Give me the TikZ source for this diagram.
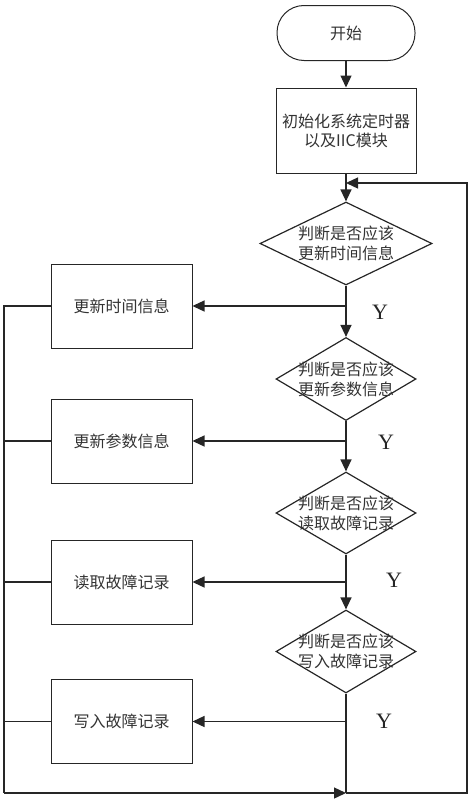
\documentclass[tikz,border=0pt]{standalone}
\usepackage{fontspec}
\setmainfont{Noto Sans CJK SC}
\newfontfamily\yfont{Liberation Serif}
\usetikzlibrary{shapes.geometric,arrows.meta}

\begin{document}
\begin{tikzpicture}[x=1pt,y=-1pt,
  every node/.style={text=black!80},
  terminal/.style={draw=black!85,line width=1pt,rounded corners=27pt,minimum width=138pt,minimum height=55pt,inner sep=0pt,font=\fontsize{16}{19}\selectfont},
  box/.style={draw=black!85,line width=1pt,minimum width=141pt,minimum height=84pt,inner sep=0pt,align=center,font=\fontsize{16}{19}\selectfont},
  decision/.style={draw=black!85,shape=diamond,line width=1.2pt,inner sep=0pt,minimum width=140pt,minimum height=83pt},
  dtext/.style={align=center,inner sep=0pt,font=\fontsize{16}{20}\selectfont,text=black!80},
  flow/.style={draw=black!85,line width=1.3pt,-{Triangle[length=12pt,width=11pt]}},
  link/.style={draw=black!85,line width=1.3pt},
  yes/.style={font=\yfont\fontsize{22}{22}\selectfont,text=black!85}]

\useasboundingbox (0,0) rectangle (474,803);

% Main column
\node[terminal] (start) at (346,33) {开始};
\node[box,minimum width=140pt,minimum height=85pt] (init) at (346,130.5) {初始化系统定时器\\以及IIC模块};
\node[decision,minimum width=172pt] (d1) at (346,243.5) {};
\node[dtext] (t1) at (d1) {判断是否应该\\更新时间信息};
\node[decision] (d2) at (346,379) {};
\node[dtext] (t2) at (d2) {判断是否应该\\更新参数信息};
\node[decision,minimum height=82pt] (d3) at (346,513) {};
\node[dtext] (t3) at (d3) {判断是否应该\\读取故障记录};
\node[decision] (d4) at (346,651.5) {};
\node[dtext] (t4) at (d4) {判断是否应该\\写入故障记录};

% Left column
\node[box] (b1) at (121.5,306) {更新时间信息};
\node[box] (b2) at (121.5,441) {更新参数信息};
\node[box] (b3) at (121.5,582) {读取故障记录};
\node[box] (b4) at (121.5,721.5) {写入故障记录};

% Y labels
\node[yes] (y1) at (380,312) {Y};
\node[yes] (y2) at (386,442) {Y};
\node[yes] (y3) at (394,580) {Y};
\node[yes] (y4) at (384,721) {Y};

% Loop corners
\coordinate (top) at (346,183);
\coordinate (bot) at (346,793);
\coordinate (rb) at (467,793);
\coordinate (rt) at (467,183);
\coordinate (lb) at (4,793);

% Downward flow
\draw[flow] (start) -- (init);
\draw[flow] (init) -- (d1);
\draw[flow] (d1) -- (d2);
\draw[flow] (d2) -- (d3);
\draw[flow] (d3) -- (d4);
\draw[link] (d4) -- (bot);

% Branches to the left boxes
\draw[flow] (d1.south |- b1.east) -- (b1);
\draw[flow] (d2.south |- b2.east) -- (b2);
\draw[flow] (d3.south |- b3.east) -- (b3);
\draw[flow] (d4.south |- b4.east) -- (b4);

% Return along the left side
\draw[link] (b1) -- (lb |- b1.west) -- (lb);
\draw[link] (b2) -- (lb |- b2.west);
\draw[link] (b3) -- (lb |- b3.west);
\draw[link] (b4) -- (lb |- b4.west);
\draw[flow] (lb) -- (bot);

% Return along the right side
\draw[flow] (bot) -- (rb) -- (rt) -- (top);

\end{tikzpicture}
\end{document}
